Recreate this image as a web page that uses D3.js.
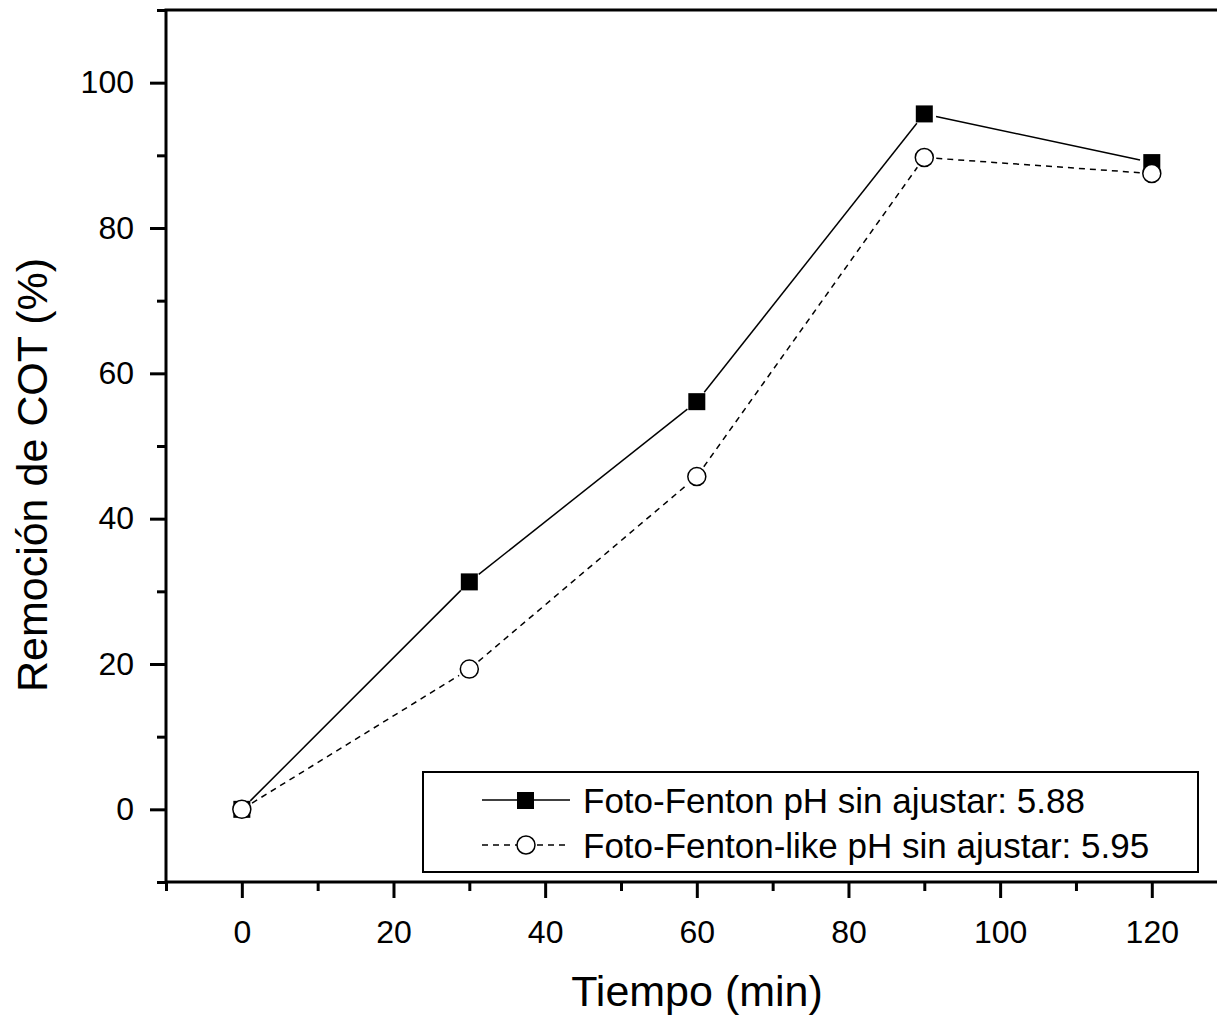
<!DOCTYPE html>
<html>
<head>
<meta charset="utf-8">
<script src="https://cdn.jsdelivr.net/npm/d3@7"></script>
<style>
  body { margin: 0; background: #fff; }
  svg text { font-family: "Liberation Sans", Arial, sans-serif; }
</style>
</head>
<body>
<div class="chart"></div>
<script>
var tiempo = [0, 30, 60, 90, 120];
var fotoFenton = [0, 31.3, 56.1, 95.7, 89.0];
var fotoFentonLike = [0, 19.3, 45.8, 89.7, 87.5];
var seriesNames = ["Foto-Fenton pH sin ajustar: 5.88", "Foto-Fenton-like pH sin ajustar: 5.95"];
var xTicks = [0, 20, 40, 60, 80, 100, 120];
var yTicks = [0, 20, 40, 60, 80, 100];

var W = 1217, H = 1016;
var x = d3.scaleLinear().domain([-10, 130]).range([166, 166 + 7.583 * 140]);
var y = d3.scaleLinear().domain([-10, 110]).range([882, 10]);

var svg = d3.select("div.chart").append("svg")
  .attr("width", W).attr("height", H);

// minor ticks
var xMinor = d3.range(-10, 131, 20), yMinor = d3.range(-10, 111, 20);

svg.append("g").attr("class", "x axis")
  .attr("transform", "translate(0," + y(-10) + ")")
  .call(d3.axisBottom(x).tickValues(xMinor).tickSize(9).tickFormat(""))
  .call(function(g){ g.select(".domain").remove(); g.selectAll("line").attr("stroke-width", 3); });
svg.append("g").attr("class", "y axis")
  .attr("transform", "translate(" + x(-10) + ",0)")
  .call(d3.axisLeft(y).tickValues(yMinor).tickSize(9).tickFormat(""))
  .call(function(g){ g.select(".domain").remove(); g.selectAll("line").attr("stroke-width", 3); });

var xAxis = svg.append("g")
  .attr("transform", "translate(0," + y(-10) + ")")
  .call(d3.axisBottom(x).tickValues(xTicks).tickSize(16).tickPadding(22).tickFormat(d3.format("d")));
var yAxis = svg.append("g")
  .attr("transform", "translate(" + x(-10) + ",0)")
  .call(d3.axisLeft(y).tickValues(yTicks).tickSize(16).tickPadding(16).tickFormat(d3.format("d")));
[xAxis, yAxis].forEach(function(g){
  g.select(".domain").remove();
  g.selectAll("line").attr("stroke", "#000").attr("stroke-width", 3);
  g.selectAll("text").attr("fill", "#000").attr("font-size", 32);
});

// frame
svg.append("rect")
  .attr("x", x(-10)).attr("y", y(110))
  .attr("width", x(130) - x(-10)).attr("height", y(-10) - y(110))
  .attr("fill", "none").attr("stroke", "#000").attr("stroke-width", 3);

// lines with gaps at markers
function gappedSegments(vals, gap) {
  var segs = [];
  for (var i = 0; i < vals.length - 1; i++) {
    var x0 = x(tiempo[i]), y0 = y(vals[i]), x1 = x(tiempo[i + 1]), y1 = y(vals[i + 1]);
    var dx = x1 - x0, dy = y1 - y0, L = Math.sqrt(dx * dx + dy * dy);
    segs.push([[x0 + dx / L * gap, y0 + dy / L * gap], [x1 - dx / L * gap, y1 - dy / L * gap]]);
  }
  return segs;
}

var line = d3.line();
svg.selectAll("path.ff").data(gappedSegments(fotoFenton, 12)).enter().append("path")
  .attr("class", "ff").attr("d", line)
  .attr("stroke", "#000").attr("stroke-width", 1.5).attr("fill", "none");
svg.selectAll("path.ffl").data(gappedSegments(fotoFentonLike, 12)).enter().append("path")
  .attr("class", "ffl").attr("d", line)
  .attr("stroke", "#000").attr("stroke-width", 1.5).attr("fill", "none")
  .attr("stroke-dasharray", "6,5");

svg.selectAll("rect.ff").data(fotoFenton).enter().append("rect")
  .attr("class", "ff")
  .attr("x", function(d, i){ return x(tiempo[i]) - 8.5; })
  .attr("y", function(d){ return y(d) - 8.5; })
  .attr("width", 17).attr("height", 17)
  .attr("fill", "#000");

svg.selectAll("circle.ffl").data(fotoFentonLike).enter().append("circle")
  .attr("class", "ffl")
  .attr("cx", function(d, i){ return x(tiempo[i]); })
  .attr("cy", function(d){ return y(d); })
  .attr("r", 9)
  .attr("fill", "#fff").attr("stroke", "#000").attr("stroke-width", 1.5);

// legend
var lg = svg.append("g");
lg.append("rect").attr("x", 423).attr("y", 772).attr("width", 775).attr("height", 100)
  .attr("fill", "#fff").attr("stroke", "#000").attr("stroke-width", 2);
lg.append("line").attr("x1", 482).attr("x2", 570).attr("y1", 800).attr("y2", 800)
  .attr("stroke", "#000").attr("stroke-width", 1.5);
lg.append("rect").attr("x", 517).attr("y", 792).attr("width", 17).attr("height", 17).attr("fill", "#000");
lg.append("line").attr("x1", 482).attr("x2", 570).attr("y1", 845).attr("y2", 845)
  .attr("stroke", "#000").attr("stroke-width", 1.5).attr("stroke-dasharray", "6,5");
lg.append("circle").attr("cx", 526).attr("cy", 845).attr("r", 9)
  .attr("fill", "#fff").attr("stroke", "#000").attr("stroke-width", 1.5);
lg.selectAll("text").data(seriesNames).enter().append("text")
  .attr("x", 583).attr("y", function(d, i){ return 800 + i * 45; })
  .attr("dy", "0.36em").attr("font-size", 35).text(function(d){ return d; });

// titles
svg.append("text").attr("x", 697).attr("y", 1006).attr("text-anchor", "middle")
  .attr("font-size", 43).text("Tiempo (min)");
svg.append("text").attr("transform", "translate(47,475) rotate(-90)").attr("text-anchor", "middle")
  .attr("font-size", 43).text("Remoción de COT (%)");
</script>
</body>
</html>
